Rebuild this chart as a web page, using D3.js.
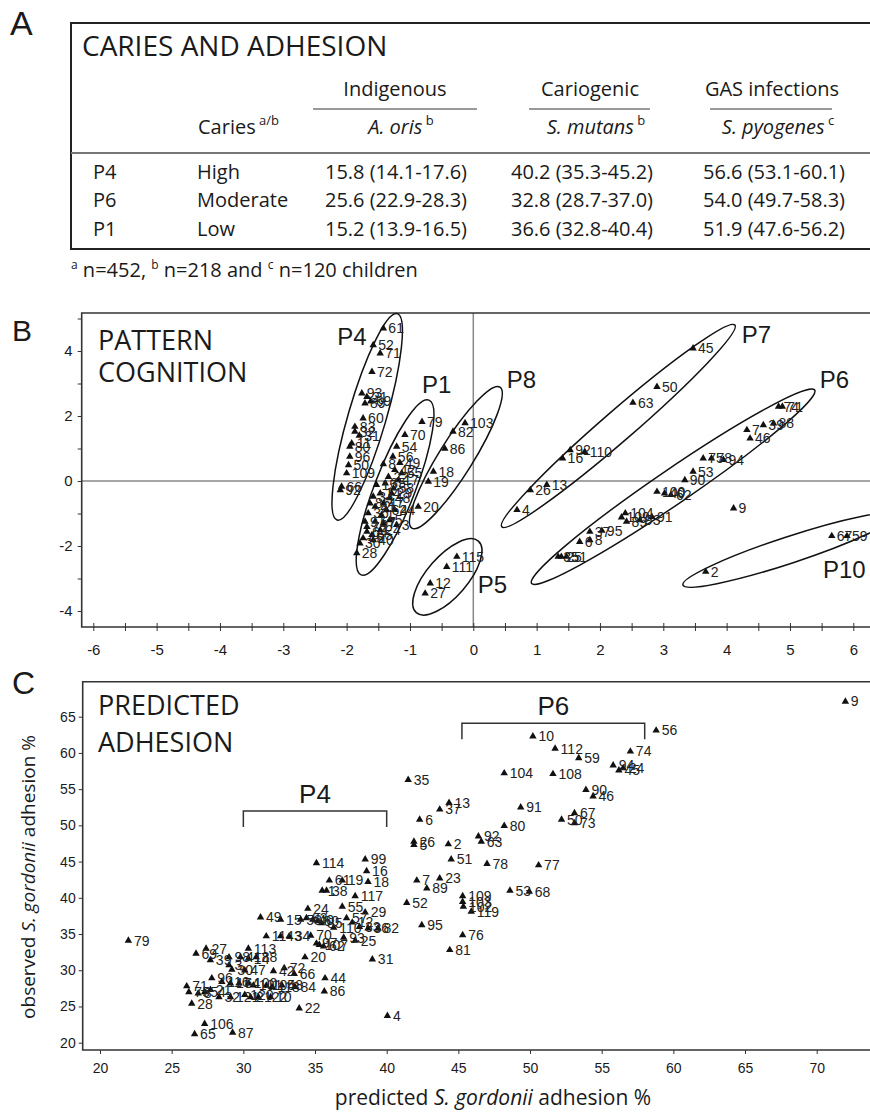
<!DOCTYPE html>
<html><head><meta charset="utf-8">
<script src="https://cdn.jsdelivr.net/npm/d3@7"></script>
<style>body{margin:0;background:#fff}svg{display:block}</style>
</head><body>
<svg id="c" width="870" height="1112"></svg>
<script>
// ---------------- DATA ----------------
// Panel A table
const tableGroups = ["Indigenous", "Cariogenic", "GAS infections"];
const tableSpecies = ["A. oris", "S. mutans", "S. pyogenes"];
const speciesSup = ["b", "b", "c"];
const tableRows = ["P4", "P6", "P1"];
const cariesLevels = ["High", "Moderate", "Low"];
const meanAOris = [15.8, 25.6, 15.2];
const ciAOris = [[14.1, 17.6], [22.9, 28.3], [13.9, 16.5]];
const meanSMutans = [40.2, 32.8, 36.6];
const ciSMutans = [[35.3, 45.2], [28.7, 37.0], [32.8, 40.4]];
const meanSPyogenes = [56.6, 54.0, 51.9];
const ciSPyogenes = [[53.1, 60.1], [49.7, 58.3], [47.6, 56.2]];
const footnoteN = [["a", 452], ["b", 218], ["c", 120]];

// Panel B: pattern cognition scores [id, x, y]
const pcaPoints = [
  ["61",-1.42,4.70],["52",-1.58,4.18],["71",-1.47,3.93],["72",-1.60,3.36],["93",-1.76,2.70],
  ["21",-1.68,2.59],["89",-1.71,2.39],["69",-1.62,2.45],["60",-1.74,1.93],["83",-1.87,1.67],
  ["32",-1.87,1.52],["31",-1.80,1.40],["11",-1.92,1.16],["80",-1.95,1.06],["96",-1.95,0.75],
  ["50",-1.97,0.49],["109",-2.00,0.24],["66",-2.08,-0.17],["92",-2.10,-0.28],
  ["79",-0.81,1.82],["70",-1.08,1.42],["54",-1.21,1.06],["56",-1.27,0.75],["49",-1.16,0.56],
  ["8",-1.42,0.52],["42",-1.24,0.34],["22",-1.34,0.13],["35",-1.39,-0.07],["17",-1.18,0.03],
  ["58",-1.26,-0.23],["14",-1.47,-0.38],["34",-1.58,-0.48],["48",-1.32,-0.53],["47",-1.42,-0.69],
  ["41",-1.55,-0.79],["44",-1.24,-0.89],["36",-1.66,-0.99],["1",-1.45,-1.05],["5",-1.32,-1.20],
  ["57",-1.55,-1.25],["75",-1.68,-1.41],["3",-1.21,-1.35],["24",-1.47,-1.51],["65",-1.60,-1.66],
  ["45",-1.74,-1.76],["30",-1.79,-1.92],["28",-1.84,-2.22],["15",-1.53,-0.12],["85",-1.63,-0.69],
  ["62",-1.37,-0.89],["97",-1.71,-1.25],["40",-1.58,-1.82],["64",-1.68,-1.56],["7",-1.42,-1.30],
  ["29",-1.29,-0.38],["55",-1.13,0.24],
  ["103",-0.13,1.78],["82",-0.32,1.52],["86",-0.45,1.00],["18",-0.63,0.29],["19",-0.71,-0.02],["20",-0.87,-0.79],
  ["115",-0.26,-2.33],["111",-0.42,-2.64],["12",-0.68,-3.15],["27",-0.76,-3.46],
  ["45",3.47,4.08],["50",2.90,2.90],["63",2.52,2.41],["92",1.53,0.95],["16",1.41,0.70],
  ["110",1.76,0.90],["26",0.90,-0.28],["13",1.16,-0.12],["4",0.69,-0.89],
  ["74",4.82,2.29],["71",4.88,2.29],["88",4.74,1.77],["39",4.58,1.72],["7",4.32,1.57],
  ["46",4.37,1.31],["75",3.63,0.70],["78",3.76,0.70],["94",3.95,0.65],["53",3.47,0.29],
  ["90",3.34,0.03],["100",2.90,-0.33],["40",3.02,-0.38],["62",3.12,-0.43],["104",2.40,-0.99],
  ["109",2.34,-1.12],["89",2.42,-1.25],["93",2.63,-1.20],["91",2.82,-1.10],["37",1.84,-1.56],
  ["95",2.03,-1.53],["6",1.68,-1.87],["8",1.84,-1.82],["35",1.34,-2.33],["25",1.39,-2.33],["51",1.47,-2.33],
  ["9",4.11,-0.84],["2",3.67,-2.79],["67",5.66,-1.69],["59",5.90,-1.69]
];
// cluster outlines: [name, x1, y1, x2, y2, half-width (x units)]
const clusterBounds = [
  ["P4",-2.15,-1.20,-1.20,5.15,0.30],
  ["P1",-1.77,-2.89,-0.70,2.49,0.32],
  ["P8",-0.97,-1.45,0.42,2.89,0.27],
  ["P5",-0.90,-4.05,0.08,-1.85,0.32],
  ["P7",0.45,-1.41,4.13,4.80,0.24],
  ["P6",0.92,-3.15,5.39,2.80,0.27],
  ["P10",3.31,-3.20,6.66,-1.05,0.21]
];
// cluster label anchors [name, x, y]
const clusterLabels = [["P4",-2.15,4.18],["P1",-0.81,2.71],["P8",0.53,2.86],["P5",0.07,-3.45],
  ["P7",4.24,4.25],["P6",5.47,2.86],["P10",5.52,-2.98]];
const pcaXTicks = d3.range(-6, 6.01, 0.5);
const pcaYTicks = d3.range(-4, 5.01, 1);

// Panel C: [id, predicted %, observed %]
const adhesionPoints = [
  ["9",72.0,67.1],["56",58.8,63.1],["10",50.2,62.3],["112",51.75,60.6],["74",57.0,60.2],
  ["59",53.4,59.3],["94",55.8,58.3],["45",56.2,57.6],["24",56.5,57.9],["104",48.2,57.2],["108",51.6,57.1],
  ["35",41.5,56.3],["90",53.9,54.9],["46",54.4,54.0],["13",44.35,53.1],["37",43.7,52.2],
  ["91",49.35,52.5],["6",42.3,50.8],["67",53.1,51.7],["50",52.2,50.8],["73",53.1,50.3],
  ["80",48.2,49.95],["92",46.4,48.5],["63",46.6,47.75],["26",41.9,47.75],["5",41.9,47.3],
  ["2",44.3,47.4],["51",44.5,45.3],["78",47.0,44.7],["77",50.6,44.5],["7",42.1,42.4],
  ["23",43.7,42.7],["89",42.8,41.3],["53",48.6,41.0],["68",49.95,40.85],["52",41.4,39.3],
  ["109",45.3,40.25],["103",45.3,39.45],["102",45.35,38.8],["119",45.9,38.1],["95",42.45,36.25],
  ["76",45.3,34.85],["81",44.4,32.8],["4",40.05,23.7],["31",39.0,31.5],["82",39.4,35.8],
  ["36",38.7,35.8],["114",35.1,44.8],["99",38.5,45.3],["16",38.6,43.7],["18",38.7,42.2],
  ["19",36.9,42.4],["61",36.0,42.4],["1",35.5,41.0],["38",35.8,41.0],["117",37.8,40.25],
  ["55",36.9,38.8],["29",38.5,38.0],["24",34.5,38.5],["49",31.2,37.3],["15",32.6,37.0],
  ["58",34.0,37.0],["83",34.4,37.2],["40",34.85,37.0],["60",35.2,36.8],["85",35.45,36.5],
  ["57",37.2,37.2],["12",37.6,36.6],["33",38.1,36.0],["11",31.6,34.7],["43",32.6,34.7],
  ["34",33.2,34.7],["70",34.7,34.8],["110",36.3,35.9],["93",37.0,34.5],["25",37.8,34.1],
  ["107",35.3,33.5],["62",35.6,33.3],["97",35.1,33.7],["20",34.3,31.8],["27",27.4,33.0],
  ["69",26.7,32.3],["113",30.35,33.0],["39",27.7,31.4],["98",29.0,31.8],["41",29.8,31.8],
  ["14",30.35,31.6],["88",30.9,31.8],["3",29.0,30.7],["30",29.2,30.1],["47",30.1,30.0],
  ["42",32.1,29.9],["72",32.85,30.3],["66",33.55,29.5],["44",35.7,28.9],["86",35.65,27.1],
  ["48",32.7,27.9],["84",33.6,27.7],["22",33.9,24.75],["106",27.3,22.6],["65",26.6,21.2],
  ["87",29.25,21.4],["28",26.4,25.4],["79",21.98,34.1],["71",26.05,27.8],["75",26.2,27.0],
  ["8",26.85,26.8],["54",27.3,27.0],["21",27.7,27.3],["96",27.8,28.9],["116",28.5,28.4],
  ["17",29.1,28.2],["64",29.7,28.2],["100",30.35,28.2],["101",30.7,27.9],["105",31.6,27.9],
  ["118",32.0,27.7],["32",28.3,26.3],["121",29.1,26.3],["120",30.1,26.6],["2",30.5,26.3],
  ["122",31.05,26.3],["10",31.9,26.3]
];
// bracketed groups in panel C: [name, from, to, observed level]
const adhesionGroups = [["P4",30.0,40.0,52.0],["P6",45.25,58.0,64.1]];
const adhXTicks = d3.range(20, 70.01, 5);
const adhYTicks = d3.range(20, 65.01, 5);

// ---------------- DRAW ----------------
const svg = d3.select("#c");
const UI = "'Open Sans','Noto Sans',sans-serif";
const AR = "'Liberation Sans',Arial,sans-serif";
const INK = "#1a1a1a";
const f1 = d3.format(".1f");

// panel letters
svg.append("text").attr("x",10).attr("y",35).attr("font-family",AR).attr("font-size",34).attr("fill",INK).text("A");
svg.append("text").attr("x",12).attr("y",341).attr("font-family",AR).attr("font-size",30).attr("fill",INK).text("B");
svg.append("text").attr("x",12).attr("y",694).attr("font-family",AR).attr("font-size",32).attr("fill",INK).text("C");

// ---------- Panel A ----------
const gA = svg.append("g").attr("font-family", UI).attr("fill", INK);
gA.append("rect").attr("x",71).attr("y",23).attr("width",860).attr("height",226)
  .attr("fill","none").attr("stroke","#222").attr("stroke-width",2);
gA.append("text").attr("x",82).attr("y",56).attr("font-size",28).text("CARIES AND ADHESION");

const colCenters = [395, 590, 772];
const underlines = [[313,477],[529,650],[710,832]];
tableGroups.forEach((g,i) => {
  gA.append("text").attr("x",colCenters[i]).attr("y",96).attr("text-anchor","middle")
    .attr("font-size",20).text(g);
  gA.append("line").attr("x1",underlines[i][0]).attr("x2",underlines[i][1])
    .attr("y1",109).attr("y2",109).attr("stroke","#999").attr("stroke-width",2);
  const t = gA.append("text").attr("x",colCenters[i]+6).attr("y",134).attr("text-anchor","middle").attr("font-size",20);
  t.append("tspan").attr("font-style","italic").text(tableSpecies[i]);
  t.append("tspan").attr("font-size",13).attr("dy",-9).text(" " + speciesSup[i]);
});
const ch = gA.append("text").attr("x",198).attr("y",134).attr("font-size",20);
ch.append("tspan").text("Caries");
ch.append("tspan").attr("font-size",13).attr("dy",-9).text(" a/b");
gA.append("line").attr("x1",71).attr("x2",870).attr("y1",153).attr("y2",153)
  .attr("stroke","#777").attr("stroke-width",2);

const rowY = [179, 207, 236];
const valueCols = [[meanAOris,ciAOris,325],[meanSMutans,ciSMutans,511],[meanSPyogenes,ciSPyogenes,703]];
tableRows.forEach((r,i) => {
  gA.append("text").attr("x",93).attr("y",rowY[i]).attr("font-size",20).text(r);
  gA.append("text").attr("x",197).attr("y",rowY[i]).attr("font-size",20).text(cariesLevels[i]);
  valueCols.forEach(([m,ci,x]) => {
    gA.append("text").attr("x",x).attr("y",rowY[i]).attr("font-size",20)
      .attr("textLength",142).attr("lengthAdjust","spacingAndGlyphs")
      .text(`${f1(m[i])} (${f1(ci[i][0])}-${f1(ci[i][1])})`);
  });
});
const fn = gA.append("text").attr("x",71).attr("y",277).attr("font-size",20);
footnoteN.forEach(([s,n],i) => {
  fn.append("tspan").attr("font-size",12).attr("dy",-8).text(s);
  fn.append("tspan").attr("dy",8).text(" n=" + n + (i===0 ? ", " : i===1 ? " and " : " children"));
});

// ---------- Panel B ----------
const bx = d3.scaleLinear().domain([-6,6]).range([93.3,853.3]);
const by = d3.scaleLinear().domain([-4,4]).range([611,351]);
const bLeft = 81.7, bTop = 313, bBottom = 627;
const gB = svg.append("g");
gB.append("line").attr("x1",bx(0)).attr("x2",bx(0)).attr("y1",bTop).attr("y2",bBottom).attr("stroke","#888").attr("stroke-width",1.5);
gB.append("line").attr("x1",bLeft).attr("x2",880).attr("y1",by(0)).attr("y2",by(0)).attr("stroke","#888").attr("stroke-width",1.5);
gB.append("path").attr("d",`M880,${bTop}H${bLeft}V${bBottom}H880`).attr("fill","none").attr("stroke","#333").attr("stroke-width",1.6);

const bxAxis = gB.append("g").attr("transform",`translate(0,${bBottom})`)
  .call(d3.axisBottom(bx).tickValues(pcaXTicks).tickSizeInner(4).tickSizeOuter(0).tickPadding(13)
    .tickFormat(d => Number.isInteger(d) ? d3.format("d")(d).replace("−","-") : ""));
bxAxis.select(".domain").remove();
bxAxis.selectAll(".tick line").attr("y1",-4).attr("y2",4).attr("stroke","#333");
bxAxis.selectAll("text").attr("font-family",AR).attr("font-size",15).attr("fill",INK);

const byAxis = gB.append("g").attr("transform",`translate(${bLeft},0)`)
  .call(d3.axisLeft(by).tickValues(pcaYTicks).tickSizeInner(4).tickSizeOuter(0).tickPadding(5)
    .tickFormat(d => d % 2 === 0 ? d3.format("d")(d).replace("−","-") : ""));
byAxis.select(".domain").remove();
byAxis.selectAll(".tick line").attr("stroke","#333");
byAxis.selectAll("text").attr("font-family",AR).attr("font-size",15).attr("fill",INK);

// cluster ellipses
clusterBounds.forEach(([n,x1,y1,x2,y2,hw]) => {
  const p1 = [bx(x1),by(y1)], p2 = [bx(x2),by(y2)];
  const cxp = (p1[0]+p2[0])/2, cyp = (p1[1]+p2[1])/2;
  const a = Math.hypot(p2[0]-p1[0], p2[1]-p1[1]) / 2;
  const ang = Math.atan2(p2[1]-p1[1], p2[0]-p1[0]) * 180 / Math.PI;
  const b = hw * (bx(1) - bx(0));
  gB.append("ellipse").attr("cx",0).attr("cy",0).attr("rx",a).attr("ry",b)
    .attr("transform",`translate(${cxp},${cyp}) rotate(${ang})`)
    .attr("fill","none").attr("stroke","#111").attr("stroke-width",1.5);
});
gB.selectAll("text.cl").data(clusterLabels).join("text").attr("class","cl")
  .attr("x",d=>bx(d[1])).attr("y",d=>by(d[2])).attr("font-family",AR).attr("font-size",24)
  .attr("fill",INK).text(d=>d[0]);

const tri = d3.symbol().type(d3.symbolTriangle).size(24);
gB.selectAll("path.pt").data(pcaPoints).join("path").attr("class","pt")
  .attr("d",tri).attr("transform",d=>`translate(${bx(d[1])},${by(d[2])})`).attr("fill","#111");
gB.selectAll("text.lb").data(pcaPoints).join("text").attr("class","lb")
  .attr("x",d=>bx(d[1])+5).attr("y",d=>by(d[2])+5).attr("font-family",AR).attr("font-size",14)
  .attr("fill","#222").text(d=>d[0]);

gB.append("text").attr("x",98).attr("y",350).attr("font-family",UI).attr("font-size",27).attr("fill",INK).text("PATTERN");
gB.append("text").attr("x",98).attr("y",382).attr("font-family",UI).attr("font-size",27).attr("fill",INK).text("COGNITION");

// ---------- Panel C ----------
const cx = d3.scaleLinear().domain([20,70]).range([100,816.7]);
const cy = d3.scaleLinear().domain([20,65]).range([1042.7,716.7]);
const cLeft = 82.7, cTop = 681.7, cBottom = 1050;
const gC = svg.append("g");
gC.append("path").attr("d",`M880,${cTop}H${cLeft}V${cBottom}H880`).attr("fill","none").attr("stroke","#333").attr("stroke-width",1.6);

const cxAxis = gC.append("g").attr("transform",`translate(0,${cBottom})`)
  .call(d3.axisBottom(cx).tickValues(adhXTicks).tickSizeInner(4).tickSizeOuter(0).tickPadding(9).tickFormat(d3.format("d")));
cxAxis.select(".domain").remove();
cxAxis.selectAll(".tick line").attr("stroke","#333");
cxAxis.selectAll("text").attr("font-family",AR).attr("font-size",14).attr("fill",INK);
const cyAxis = gC.append("g").attr("transform",`translate(${cLeft},0)`)
  .call(d3.axisLeft(cy).tickValues(adhYTicks).tickSizeInner(4).tickSizeOuter(0).tickPadding(3).tickFormat(d3.format("d")));
cyAxis.select(".domain").remove();
cyAxis.selectAll(".tick line").attr("stroke","#333");
cyAxis.selectAll("text").attr("font-family",AR).attr("font-size",14).attr("fill",INK);

// group brackets
adhesionGroups.forEach(([n,x0,x1,yv]) => {
  const yb = cy(yv), drop = 16;
  gC.append("path").attr("d",`M${cx(x0)},${yb+drop}V${yb}H${cx(x1)}V${yb+drop}`)
    .attr("fill","none").attr("stroke","#333").attr("stroke-width",1.5);
  gC.append("text").attr("x",(cx(x0)+cx(x1))/2).attr("y",yb-8).attr("text-anchor","middle")
    .attr("font-family",AR).attr("font-size",26).attr("fill",INK).text(n);
});

gC.selectAll("path.pt").data(adhesionPoints).join("path").attr("class","pt")
  .attr("d",tri).attr("transform",d=>`translate(${cx(d[1])},${cy(d[2])})`).attr("fill","#111");
gC.selectAll("text.lb").data(adhesionPoints).join("text").attr("class","lb")
  .attr("x",d=>cx(d[1])+5.5).attr("y",d=>cy(d[2])+5).attr("font-family",AR).attr("font-size",14)
  .attr("fill","#222").text(d=>d[0]);

gC.append("text").attr("x",98).attr("y",715).attr("font-family",UI).attr("font-size",27).attr("fill",INK).text("PREDICTED");
gC.append("text").attr("x",98).attr("y",752).attr("font-family",UI).attr("font-size",27).attr("fill",INK).text("ADHESION");

const yt = gC.append("text").attr("transform","translate(35,877) rotate(-90)").attr("text-anchor","middle")
  .attr("font-family",UI).attr("font-size",19).attr("fill",INK);
yt.append("tspan").text("observed ");
yt.append("tspan").attr("font-style","italic").text("S. gordonii");
yt.append("tspan").text(" adhesion %");
const xt = gC.append("text").attr("x",493).attr("y",1105).attr("text-anchor","middle")
  .attr("font-family",UI).attr("font-size",21).attr("fill",INK);
xt.append("tspan").text("predicted ");
xt.append("tspan").attr("font-style","italic").text("S. gordonii");
xt.append("tspan").text(" adhesion %");
</script>
</body></html>
